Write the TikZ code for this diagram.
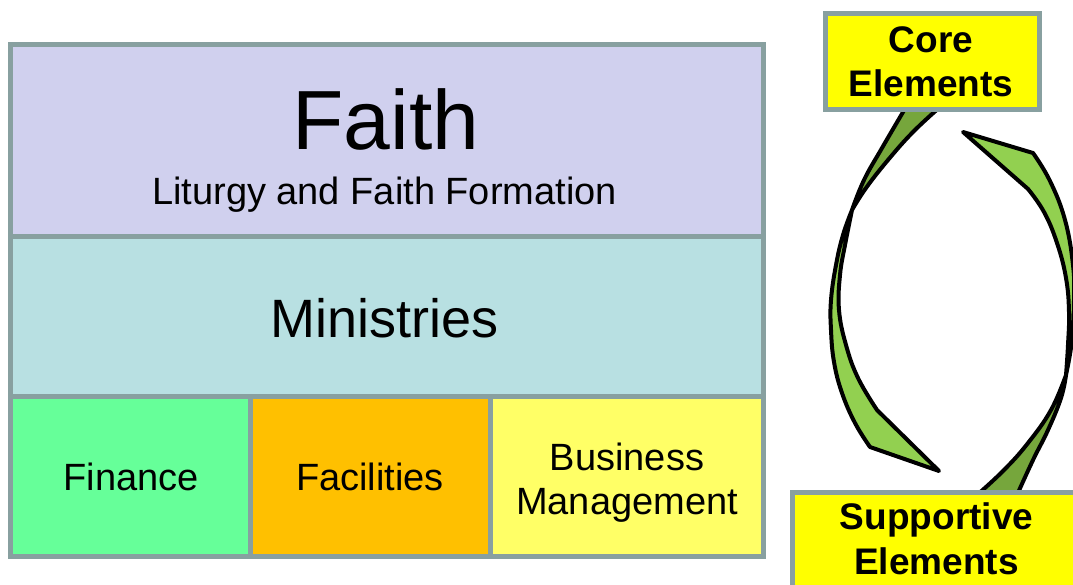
\documentclass[tikz,border=0pt]{standalone}
\usepackage{fontspec}
\setmainfont{Liberation Sans}
\usetikzlibrary{positioning}

\definecolor{framegray}{RGB}{136,160,160}
\definecolor{faithc}{RGB}{208,208,238}
\definecolor{ministryc}{RGB}{184,224,226}
\definecolor{financec}{RGB}{102,255,153}
\definecolor{facilityc}{RGB}{255,192,0}
\definecolor{businessc}{RGB}{255,255,102}
\definecolor{tagyellow}{RGB}{255,255,0}
\definecolor{arrowlight}{RGB}{146,208,80}
\definecolor{arrowdark}{RGB}{118,166,60}

\tikzset{
  cellbox/.style={draw=framegray, line width=5pt},
  celltext/.style={anchor=base, inner sep=0pt, align=center, font=\fontsize{38}{44}\selectfont},
  tagbox/.style={draw=framegray, line width=5pt, fill=tagyellow},
  tagtext/.style={anchor=base, inner sep=0pt, align=center, font=\bfseries\fontsize{37}{44.5}\selectfont},
  backface/.style={fill=arrowdark, draw=black, line width=4pt, line join=round},
  frontface/.style={fill=arrowlight, draw=black, line width=4pt, line join=round}
}

\begin{document}
\begin{tikzpicture}[x=1pt, y=-1pt]
				\useasboundingbox (0,0) rectangle (1073,585);

				% the stack of parish elements
				\draw[cellbox, fill=faithc] (10,45) rectangle (763,237);
				\node[celltext, font=\fontsize{84}{84}\selectfont] (faith) at (386,150) {Faith};
				\node[celltext] (liturgy) at (384.5,205) {Liturgy and Faith Formation};

				\draw[cellbox, fill=ministryc] (10,237) rectangle (763,396);
				\node[celltext, font=\fontsize{54}{54}\selectfont] (ministries) at (385,337) {Ministries};

				\draw[cellbox, fill=financec] (10,396) rectangle (250,556);
				\node[celltext] (finance) at (131,490) {Finance};

				\draw[cellbox, fill=facilityc] (250,396) rectangle (490,556);
				\node[celltext] (facilities) at (370,490) {Facilities};

				\draw[cellbox, fill=businessc] (490,396) rectangle (763,556);
				\node[celltext] (business) at (627,514) {Business\\Management};

				% left arrow, core down to supportive
				\draw[backface] plot[smooth, tension=0.7] coordinates {(906,107) (882,148) (864,180) (852,210)}
				-- plot[smooth, tension=0.7] coordinates {(852,210) (866,188) (888,160) (913,132) (940,107)} -- cycle;
				\draw[frontface] plot[smooth, tension=0.7] coordinates {(852,210) (843,235) (836,265) (831,300) (831,330) (834,362) (842,393) (855,423) (870,447)}
				-- (939,471) -- (877,410)
				-- plot[smooth, tension=0.7] coordinates {(877,410) (858,378) (846,345) (839,310) (840,275) (845,245) (852,210)} -- cycle;

				% right arrow, supportive up to core
				\draw[backface] plot[smooth, tension=0.7] coordinates {(1066,375) (1051,410) (1028,443) (1004,470) (977,495)}
				-- plot[smooth, tension=0.7] coordinates {(1017,495) (1033,460) (1048,430) (1061,398) (1066,375)} -- cycle;
				\draw[frontface] plot[smooth, tension=0.7] coordinates {(1066,375) (1072,340) (1074,300) (1073,265) (1065,220) (1050,181) (1033,153)}
				-- (963,132) -- (1028,189)
				-- plot[smooth, tension=0.7] coordinates {(1028,189) (1044,212) (1057,243) (1066,278) (1069,312) (1068,345) (1066,375)} -- cycle;

				% labels of the cycle
				\draw[tagbox] (825.5,13.5) rectangle (1039.5,109.5);
				\node[tagtext] (core) at (931,96.7) {Core\\Elements};

				\draw[tagbox] (792.5,492) rectangle (1090,600);
				\node[tagtext] (supportive) at (936.5,574) {Supportive\\Elements};
\end{tikzpicture}
\end{document}
